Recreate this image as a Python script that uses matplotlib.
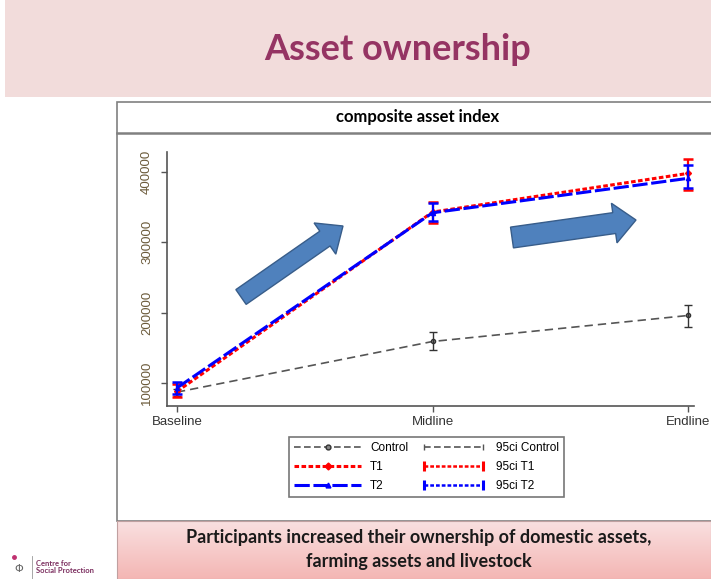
import numpy as np
import matplotlib
matplotlib.use("Agg")
import matplotlib.pyplot as plt
from matplotlib.lines import Line2D
from matplotlib.patches import Rectangle, FancyArrow
from matplotlib.transforms import IdentityTransform
from matplotlib.legend_handler import HandlerLine2D
from matplotlib.colors import LinearSegmentedColormap

# ---- data ----
waves = ["Baseline", "Midline", "Endline"]
control = [87000, 159000, 196000]
control_lo = [81000, 147000, 180000]
control_hi = [92000, 172000, 211000]
t1 = [88000, 343000, 398000]
t1_lo = [80000, 327000, 374000]
t1_hi = [98000, 358000, 418000]
t2 = [93000, 342000, 391000]
t2_lo = [85000, 330000, 377000]
t2_hi = [101000, 356000, 410000]
yticks = [100000, 200000, 300000, 400000]

W, H = 711, 579
fig = plt.figure(figsize=(W / 100, H / 100), dpi=100)
fig.patch.set_facecolor("white")

def fx(x):
    return x / W

def fy(y):
    return 1 - y / H

# header band
fig.add_artist(Rectangle((fx(5), fy(97)), fx(706), 97 / H, transform=fig.transFigure,
                         facecolor="#F2DCDB", edgecolor="none", zorder=0))
fig.text(fx(398), fy(50), "Asset ownership", ha="center", va="center",
         fontsize=26, fontweight="bold", color="#953463", family="Lato")

# chart box
fig.add_artist(Rectangle((fx(117), fy(521)), fx(600), (521 - 102) / H, transform=fig.transFigure,
                         facecolor="white", edgecolor="#808080", linewidth=1.2, zorder=0))
fig.add_artist(Line2D([fx(117), fx(711)], [fy(133), fy(133)], transform=fig.transFigure,
                      color="#808080", linewidth=1.8))
fig.text(fx(418), fy(117), "composite asset index", ha="center", va="center",
         fontsize=12, fontweight="bold", color="black", family="Lato")

# bottom banner with gradient
bax = fig.add_axes([fx(117), 0, fx(594), (579 - 521) / H])
grad = np.linspace(0, 1, 100).reshape(-1, 1)
cm = LinearSegmentedColormap.from_list("pk", ["#F9E0E0", "#F4B6B4"])
bax.imshow(grad, aspect="auto", cmap=cm, extent=[0, 1, 0, 1], origin="upper")
bax.set_xlim(0, 1)
bax.set_ylim(0, 1)
bax.axis("off")
fig.add_artist(Rectangle((fx(117), 0), fx(594), (579 - 521) / H, transform=fig.transFigure,
                         facecolor="none", edgecolor="#C0A0A0", linewidth=0.8))
fig.text(fx(419), fy(537), "Participants increased their ownership of domestic assets,",
         ha="center", va="center", fontsize=13, fontweight="bold", family="Lato", color="#1a1a1a")
fig.text(fx(419), fy(561), "farming assets and livestock",
         ha="center", va="center", fontsize=13, fontweight="bold", family="Lato", color="#1a1a1a")

# logo
fig.text(fx(36), fy(567), "Centre for\nSocial Protection", ha="left", va="center",
         fontsize=5.5, fontweight="bold", color="#7B2D5E", linespacing=0.95, family="Lato")
fig.add_artist(Line2D([fx(32), fx(32)], [fy(556), fy(579)], transform=fig.transFigure,
                      color="#999999", linewidth=0.6))
fig.text(fx(19), fy(569), "\u03a6", ha="center", va="center", fontsize=8, color="#666666")
fig.add_artist(Line2D([fx(14)], [fy(557)], transform=fig.transFigure, marker="o",
                      markersize=2.5, color="#C03070", linestyle="none"))

# main axes
x0, x1, ytop, ybot = 167, 694, 152, 406
ax = fig.add_axes([fx(x0), fy(ybot), fx(x1 - x0), (ybot - ytop) / H])
ax.set_facecolor("none")
xs = np.arange(len(waves))

ax.plot(xs, control, color="#555555", linestyle=(0, (5, 3)), linewidth=1.2,
        marker="o", markersize=3, markerfacecolor="#888888", markeredgecolor="#333333", zorder=3)
ax.errorbar(xs, control, yerr=[np.array(control) - np.array(control_lo), np.array(control_hi) - np.array(control)],
            fmt="none", ecolor="#333333", elinewidth=1.0, capsize=3, capthick=1.0, zorder=3)

ax.plot(xs, t1, color="#FF0000", linestyle=(0, (1.5, 0.8)), linewidth=2.2,
        marker="D", markersize=3, zorder=4)
ax.errorbar(xs, t1, yerr=[np.array(t1) - np.array(t1_lo), np.array(t1_hi) - np.array(t1)],
            fmt="none", ecolor="#FF0000", elinewidth=1.6, capsize=3.5, capthick=1.8, zorder=4)

ax.plot(xs, t2, color="#0000FF", linestyle=(0, (5, 1.2)), linewidth=2.2,
        marker="^", markersize=3, zorder=5)
ax.errorbar(xs, t2, yerr=[np.array(t2) - np.array(t2_lo), np.array(t2_hi) - np.array(t2)],
            fmt="none", ecolor="#0000FF", elinewidth=1.6, capsize=3.5, capthick=1.8, zorder=5)

ax.set_xlim(-0.039, 2.023)
ax.set_ylim(67300, 428400)
ax.set_xticks(xs)
ax.set_xticklabels(waves, fontsize=9.5, color="#333333", family="Liberation Sans")
ax.set_yticks(yticks)
ax.set_yticklabels([str(v) for v in yticks], rotation=90, va="center",
                   fontsize=9.5, family="Liberation Sans")
for s in ["top", "right"]:
    ax.spines[s].set_visible(False)
for s in ["left", "bottom"]:
    ax.spines[s].set_color("#555555")
    ax.spines[s].set_linewidth(1.2)
ax.tick_params(axis="both", colors="#555555", length=4, width=1, labelcolor="#333333")
ax.tick_params(axis="y", labelcolor="#6b5a3a", pad=6)
ax.tick_params(axis="x", pad=3)

# legend
h_c = Line2D([], [], color="#555555", linestyle=(0, (4, 2)), linewidth=1.2, marker="o",
             markersize=3.5, markerfacecolor="#888888", markeredgecolor="#333333")
h_t1 = Line2D([], [], color="#FF0000", linestyle=(0, (1.5, 0.8)), linewidth=2.2, marker="D", markersize=3.5)
h_t2 = Line2D([], [], color="#0000FF", linestyle=(0, (5, 1.2)), linewidth=2.2, marker="^", markersize=3.5)
h_cc = Line2D([], [], color="#555555", linestyle=(0, (4, 2)), linewidth=1.2, marker="|", markersize=5)
h_c1 = Line2D([], [], color="#FF0000", linestyle=(0, (1.5, 0.8)), linewidth=1.8, marker="|",
              markersize=7, markeredgewidth=2.2)
h_c2 = Line2D([], [], color="#0000FF", linestyle=(0, (1.5, 0.8)), linewidth=1.8, marker="|",
              markersize=7, markeredgewidth=2.2)
handles = [h_c, h_t1, h_t2, h_cc, h_c1, h_c2]
labels = ["Control", "T1", "T2", "95ci Control", "95ci T1", "95ci T2"]
hm = {h: HandlerLine2D(numpoints=2) for h in [h_cc, h_c1, h_c2]}
leg = fig.legend(handles, labels, ncol=2, loc="center", bbox_to_anchor=(fx(426.5), fy(467)),
                 frameon=True, fancybox=False, handlelength=5.6, handler_map=hm,
                 columnspacing=1.0, labelspacing=0.6, borderpad=0.45, handletextpad=0.8,
                 prop={"family": "Liberation Sans", "size": 8.5})
leg.get_frame().set_edgecolor("#555555")
leg.get_frame().set_linewidth(1.2)

# arrows (pixel coordinates, y flipped)
def arrow(xt, yt, xh, yh, width, hw, hl):
    a = FancyArrow(xt, H - yt, xh - xt, -(yh - yt), width=width, head_width=hw, head_length=hl,
                   length_includes_head=True, transform=IdentityTransform(),
                   facecolor="#4F81BD", edgecolor="#385D8A", linewidth=1, zorder=10)
    fig.add_artist(a)

arrow(241, 297, 343, 226, 18, 38, 22)
arrow(512, 237.5, 636, 220, 21, 40, 22)

fig.savefig("out.png", dpi=100)
